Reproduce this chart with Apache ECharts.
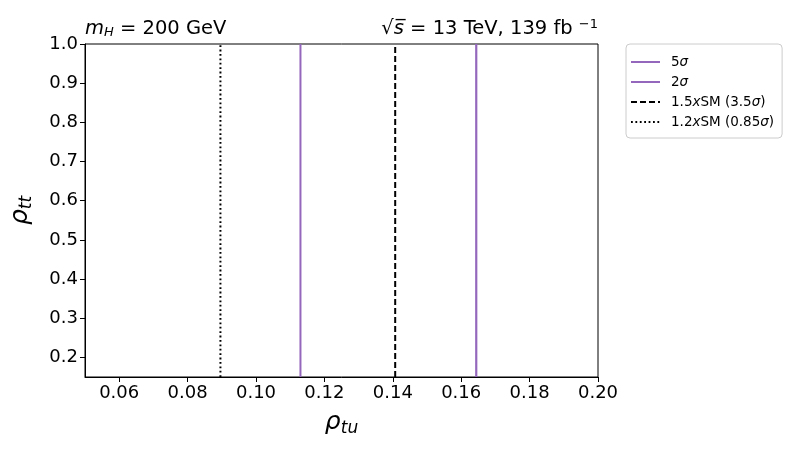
<!DOCTYPE html>
<html>
<head>
<meta charset="utf-8">
<script src="https://cdn.jsdelivr.net/npm/echarts@6/dist/echarts.min.js"></script>
<style>html,body{margin:0;padding:0;background:#fff}#c{width:800px;height:450px}</style>
</head>
<body>
<div id="c"></div>
<script>
var seriesNames = ['5σ', '2σ', '1.5xSM (3.5σ)', '1.2xSM (0.85σ)'];
var legendLabels = ['5{i|σ}', '2{i|σ}', '1.5{i|x}SM (3.5{i|σ})', '1.2{i|x}SM (0.85{i|σ})'];
var seriesX = [0.1644, 0.1130, 0.1407, 0.0896];
var yRange = [0.15, 1.0];
var xRange = [0.05, 0.20];
var xTicks = [0.06, 0.08, 0.10, 0.12, 0.14, 0.16, 0.18, 0.20];
var yTicks = [0.2, 0.3, 0.4, 0.5, 0.6, 0.7, 0.8, 0.9, 1.0];

var styles = [
  {color: '#9467bd', width: 2.2, type: 'solid'},
  {color: '#9467bd', width: 2, type: 'solid'},
  {color: '#000', width: 2, type: [6, 3]},
  {color: '#000', width: 2, type: [1.8, 2.6]}
];

var F = 'DejaVu Sans';
var chart = echarts.init(document.getElementById('c'));
var series = seriesNames.map(function (n, i) {
  return {
    name: n, type: 'line', symbol: 'none', silent: true, animation: false,
    lineStyle: styles[i], itemStyle: {color: styles[i].color},
    data: [[seriesX[i], yRange[0]], [seriesX[i], yRange[1]]]
  };
});

chart.setOption({
  backgroundColor: '#fff',
  animation: false,
  grid: {left: 85, right: 202, top: 44, bottom: 73, show: true, borderColor: '#000', borderWidth: 1},
  title: [
    {left: 85, top: 18, padding: 0, text: '{i|m}{s|H}{n| = 200 GeV}',
      textStyle: {fontWeight: 'normal', rich: {
        i: {fontFamily: F, fontSize: 19.5, fontStyle: 'italic', fontWeight: 'normal', color: '#000'},
        s: {fontFamily: F, fontSize: 13, fontStyle: 'italic', fontWeight: 'normal', color: '#000', verticalAlign: 'bottom', padding: [8, 0, 0, 0]},
        n: {fontFamily: F, fontSize: 19.5, fontWeight: 'normal', color: '#000'}
      }}},
    {right: 202, top: 18, padding: 0, text: '{n|√}{i|s\u0305}{n| = 13 TeV, 139 fb }{p|−1}',
      textStyle: {fontWeight: 'normal', rich: {
        i: {fontFamily: F, fontSize: 19.5, fontStyle: 'italic', fontWeight: 'normal', color: '#000'},
        n: {fontFamily: F, fontSize: 19.5, fontWeight: 'normal', color: '#000'},
        p: {fontFamily: F, fontSize: 13, fontWeight: 'normal', color: '#000', verticalAlign: 'top', padding: [0, 0, 8, 0]}
      }}}
  ],
  legend: {
    orient: 'vertical', left: 626, top: 44,
    data: seriesNames,
    itemWidth: 29, itemHeight: 10, itemGap: 6,
    padding: [11, 8, 9, 4],
    borderColor: '#ccc', borderWidth: 1, borderRadius: 4,
    itemStyle: {opacity: 0},
    formatter: function (n) { return legendLabels[seriesNames.indexOf(n)]; },
    textStyle: {fontFamily: F, fontSize: 13.5, color: '#000', padding: [0, 0, 0, 6],
      rich: {i: {fontFamily: F, fontSize: 13.5, fontStyle: 'italic', color: '#000'}}},
    selectedMode: false
  },
  xAxis: {
    type: 'value', min: xRange[0], max: xRange[1],
    name: '{i|ρ}{s|tu}', nameLocation: 'middle', nameGap: 31,
    nameTextStyle: {rich: {
      i: {fontFamily: F, fontSize: 25, fontStyle: 'italic', color: '#000'},
      s: {fontFamily: F, fontSize: 17, fontStyle: 'italic', color: '#000', verticalAlign: 'bottom', padding: [12, 0, 0, 0]}
    }},
    axisLine: {show: true, lineStyle: {color: '#000', width: 1}},
    axisTick: {show: true, length: 5, lineStyle: {color: '#000'}, customValues: xTicks},
    axisLabel: {fontFamily: F, fontSize: 18, color: '#000', margin: 7, customValues: xTicks,
      formatter: function (v) { return v.toFixed(2); }},
    splitLine: {show: false}
  },
  yAxis: {
    type: 'value', min: yRange[0], max: yRange[1],
    name: '{i|ρ}{s|tt}', nameLocation: 'middle', nameGap: 50, nameRotate: 90,
    nameTextStyle: {rich: {
      i: {fontFamily: F, fontSize: 25, fontStyle: 'italic', color: '#000'},
      s: {fontFamily: F, fontSize: 17, fontStyle: 'italic', color: '#000', verticalAlign: 'bottom', padding: [12, 0, 0, 0]}
    }},
    axisLine: {show: true, lineStyle: {color: '#000', width: 1}},
    axisTick: {show: true, length: 5, lineStyle: {color: '#000'}, customValues: yTicks},
    axisLabel: {fontFamily: F, fontSize: 18, color: '#000', margin: 7, customValues: yTicks,
      formatter: function (v) { return v.toFixed(1); }},
    splitLine: {show: false}
  },
  series: series
});
</script>
</body>
</html>
